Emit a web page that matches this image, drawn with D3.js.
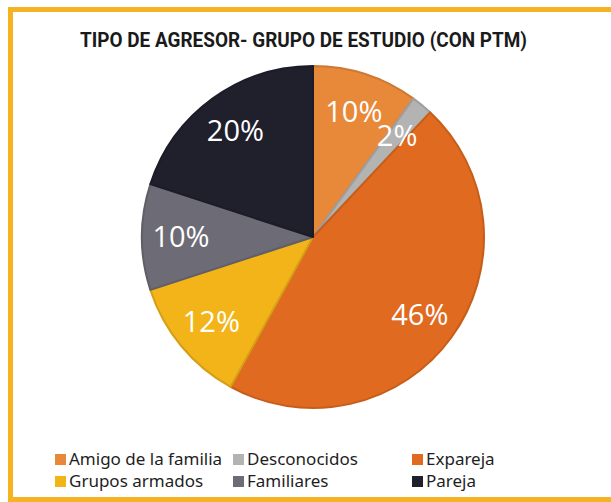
<!DOCTYPE html>
<html>
<head>
<meta charset="utf-8">
<script src="https://cdn.jsdelivr.net/npm/d3@7"></script>
<style>
  html, body { margin: 0; padding: 0; background: #fff; }
  svg { display: block; }
</style>
</head>
<body>
<svg id="chart" width="611" height="502"></svg>
<script>
const title = "TIPO DE AGRESOR- GRUPO DE ESTUDIO (CON PTM)";
const categories = ["Amigo de la familia", "Desconocidos", "Expareja", "Grupos armados", "Familiares", "Pareja"];
const values = [10, 2, 46, 12, 10, 20];
const labels = ["10%", "2%", "46%", "12%", "10%", "20%"];
const colors = ["#E8893A", "#B3B3B3", "#E06A1F", "#F2B418", "#6D6B75", "#201F2C"];

const svg = d3.select("#chart");

// frame
svg.append("rect")
  .attr("x", 10.5).attr("y", 9.5)
  .attr("width", 640).attr("height", 490)
  .attr("fill", "#fff")
  .attr("stroke", "#F5B323").attr("stroke-width", 5);

// title
svg.append("text")
  .attr("x", 80).attr("y", 47)
  .attr("font-family", "Roboto, 'Liberation Sans', sans-serif")
  .attr("font-weight", 700)
  .attr("font-size", 20)
  .attr("fill", "#1a1a1a")
  .attr("textLength", 447)
  .attr("lengthAdjust", "spacingAndGlyphs")
  .text(title);

const cx = 313, cy = 237, r = 171;
const pie = d3.pie().sort(null).value(d => d)(values);
const arc = d3.arc().innerRadius(0).outerRadius(r);
const labelArc = d3.arc().innerRadius(132).outerRadius(132);

const g = svg.append("g").attr("transform", `translate(${cx},${cy})`);
g.selectAll("path.slice")
  .data(pie)
  .join("path")
  .attr("class", "slice")
  .attr("d", arc)
  .attr("fill", (d, i) => colors[i])
  .attr("stroke", (d, i) => d3.color(colors[i]).darker(0.35))
  .attr("stroke-width", 2)
  .attr("stroke-linejoin", "round");

g.selectAll("text.lbl")
  .data(pie)
  .join("text")
  .attr("class", "lbl")
  .attr("transform", d => `translate(${labelArc.centroid(d)})`)
  .attr("text-anchor", "middle")
  .attr("dy", "0.36em")
  .attr("font-family", "'Open Sans', sans-serif")
  .attr("font-size", 29)
  .attr("fill", "#fff")
  .text((d, i) => labels[i]);

// legend
const legX = [55, 233, 412];
const legY = [454, 476];
const leg = svg.append("g");
categories.forEach((c, i) => {
  const col = i % 3, row = Math.floor(i / 3);
  leg.append("rect")
    .attr("x", legX[col]).attr("y", legY[row])
    .attr("width", 11).attr("height", 11)
    .attr("fill", colors[i]);
  leg.append("text")
    .attr("x", legX[col] + 14).attr("y", legY[row] + 11)
    .attr("font-family", "'Noto Sans', sans-serif")
    .attr("font-size", 17)
    .attr("fill", "#1e1e1e")
    .text(c);
});
</script>
</body>
</html>
